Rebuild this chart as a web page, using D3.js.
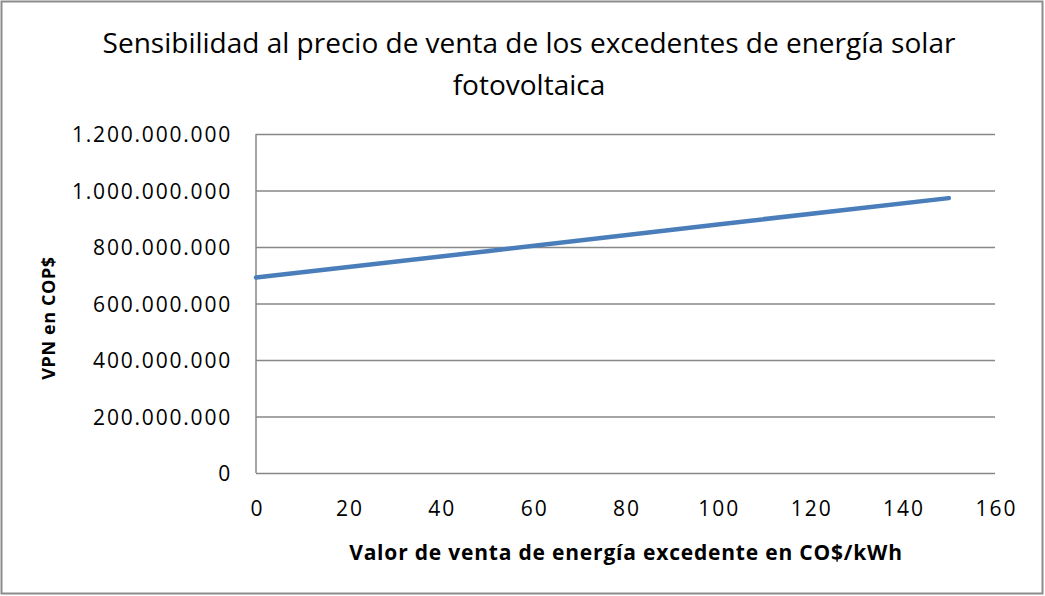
<!DOCTYPE html>
<html>
<head>
<meta charset="utf-8">
<script src="https://cdn.jsdelivr.net/npm/d3@7"></script>
<style>
  html, body { margin: 0; padding: 0; background: #fff; }
  svg { display: block; }
  text { font-family: "Open Sans", "Liberation Sans", sans-serif; fill: #000; }
</style>
</head>
<body>
<svg id="chart" width="1045" height="596"></svg>
<script>
// Precio de venta de excedentes (COP$/kWh) y VPN resultante (COP$)
const precios = [0, 50, 100, 150];
const vpn = [692000000, 785000000, 880000000, 973000000];
const yTicks = [0, 200000000, 400000000, 600000000, 800000000, 1000000000, 1200000000];
const xTicks = [0, 20, 40, 60, 80, 100, 120, 140, 160];
const titulo = ["Sensibilidad al precio de venta de los excedentes de energía solar", "fotovoltaica"];
const tituloY = "VPN en COP$";
const tituloX = "Valor de venta de energía excedente en CO$/kWh";

const W = 1045, H = 596;
const m = { left: 256, right: 995, top: 134, bottom: 473 };
const svg = d3.select("#chart");

// Marco exterior del gráfico
svg.append("rect")
  .attr("x", 1.5).attr("y", 1.5)
  .attr("width", W - 4).attr("height", H - 4)
  .attr("fill", "#fff").attr("stroke", "#8c8c8c").attr("stroke-width", 2);

const x = d3.scaleLinear().domain([0, 160]).range([m.left, m.right]);
const y = d3.scaleLinear().domain([0, 1200000000]).range([m.bottom, m.top]);

const fmt = v => d3.format(",")(v).replace(/,/g, ".");

// Líneas de división horizontales y etiquetas del eje Y
const yAxis = d3.axisLeft(y).tickValues(yTicks).tickFormat(fmt)
  .tickSize(-(m.right - m.left)).tickPadding(24);
const gy = svg.append("g").attr("transform", `translate(${m.left},0)`).call(yAxis);
gy.select(".domain").remove();
gy.selectAll(".tick line").attr("stroke", "#878787").attr("stroke-width", 1.5);
gy.selectAll(".tick text")
  .style("font-size", "21px").style("letter-spacing", "1.8px")
  .attr("dy", "0.36em").attr("fill", "#000");

// Eje X
const xAxis = d3.axisBottom(x).tickValues(xTicks).tickSize(0).tickPadding(28);
const gx = svg.append("g").attr("transform", `translate(0,${m.bottom})`).call(xAxis);
gx.select(".domain").remove();
gx.selectAll(".tick text")
  .style("font-size", "21px").style("letter-spacing", "2px")
  .attr("dx", "1px").attr("fill", "#000");

// Línea vertical del eje Y
svg.append("line")
  .attr("x1", m.left).attr("x2", m.left)
  .attr("y1", m.top).attr("y2", m.bottom)
  .attr("stroke", "#878787").attr("stroke-width", 1.5);

// Serie
const line = d3.line().x((d, i) => x(precios[i])).y(d => y(d));
svg.append("path")
  .datum(vpn)
  .attr("d", line)
  .attr("fill", "none")
  .attr("stroke", "#4a7ebb")
  .attr("stroke-width", 4.5)
  .attr("stroke-linecap", "round");

// Títulos
svg.append("g").selectAll("text").data(titulo).join("text")
  .attr("x", 529).attr("y", (d, i) => 53 + i * 42)
  .attr("text-anchor", "middle")
  .style("font-size", "28px")
  .text(d => d);

svg.append("text")
  .attr("transform", "translate(55,318) rotate(-90)")
  .attr("text-anchor", "middle")
  .style("font-size", "18px").style("font-weight", "bold").style("letter-spacing", "0.6px")
  .text(tituloY);

svg.append("text")
  .attr("x", 626).attr("y", 560)
  .attr("text-anchor", "middle")
  .style("font-size", "21px").style("font-weight", "bold").style("letter-spacing", "0.8px")
  .text(tituloX);
</script>
</body>
</html>
